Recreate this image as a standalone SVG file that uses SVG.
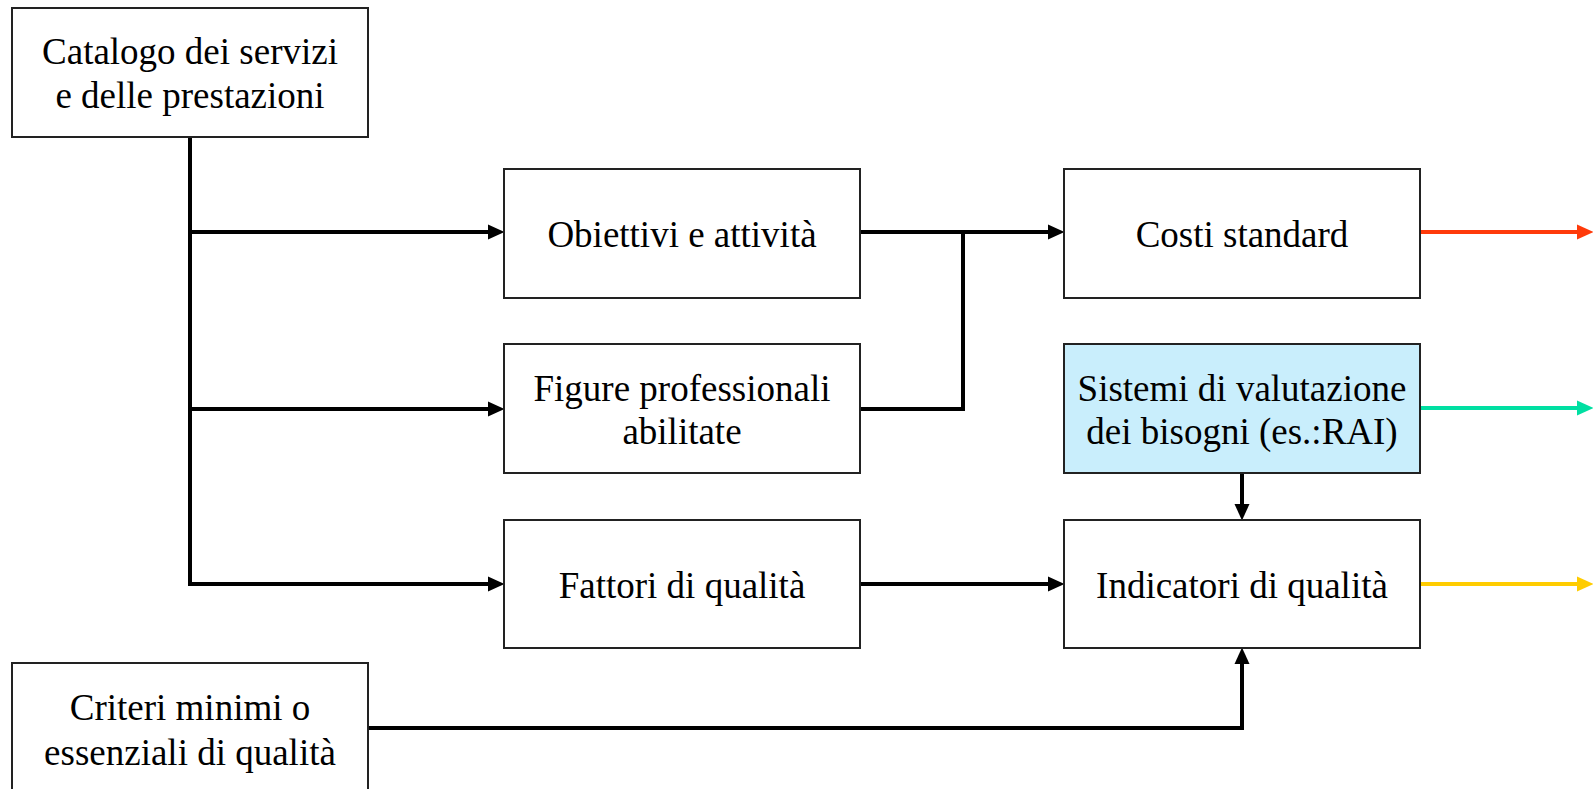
<svg xmlns="http://www.w3.org/2000/svg" width="1593" height="789" viewBox="0 0 1593 789">
<style>
.box{fill:#fff;stroke:#222;stroke-width:2}
.blue{fill:#C9EEFC}
.t{font-family:"Liberation Serif","Times New Roman",serif;font-size:37px;fill:#000;text-anchor:middle}
.c{fill:none;stroke:#000;stroke-width:4}
</style>
<defs>
<marker id="ab" markerUnits="userSpaceOnUse" markerWidth="17" markerHeight="16" viewBox="0 0 17 16" refX="0" refY="8" orient="auto"><path d="M0,0.5 L16.5,8 L0,15.5 z" fill="#000"/></marker>
<marker id="ar" markerUnits="userSpaceOnUse" markerWidth="17" markerHeight="16" viewBox="0 0 17 16" refX="0" refY="8" orient="auto"><path d="M0,0.5 L16.5,8 L0,15.5 z" fill="#FF3A0A"/></marker>
<marker id="ag" markerUnits="userSpaceOnUse" markerWidth="17" markerHeight="16" viewBox="0 0 17 16" refX="0" refY="8" orient="auto"><path d="M0,0.5 L16.5,8 L0,15.5 z" fill="#00DFA2"/></marker>
<marker id="ay" markerUnits="userSpaceOnUse" markerWidth="17" markerHeight="16" viewBox="0 0 17 16" refX="0" refY="8" orient="auto"><path d="M0,0.5 L16.5,8 L0,15.5 z" fill="#FFCC00"/></marker>
</defs>
<g id="connectors">
<path class="c" d="M190,137 V584 H488" marker-end="url(#ab)"/>
<path class="c" d="M190,232 H488" marker-end="url(#ab)"/>
<path class="c" d="M190,409 H488" marker-end="url(#ab)"/>
<path class="c" d="M860,232 H1048" marker-end="url(#ab)"/>
<path class="c" d="M860,409 H963 V232"/>
<path class="c" d="M860,584 H1048" marker-end="url(#ab)"/>
<path class="c" d="M1242,473 V504" marker-end="url(#ab)"/>
<path class="c" d="M368,728 H1242 V664" marker-end="url(#ab)"/>
<path fill="none" stroke="#FF3A0A" stroke-width="4" d="M1420,232 H1577" marker-end="url(#ar)"/>
<path fill="none" stroke="#00DFA2" stroke-width="4" d="M1420,408 H1577" marker-end="url(#ag)"/>
<path fill="none" stroke="#FFCC00" stroke-width="4" d="M1420,584 H1577" marker-end="url(#ay)"/>
</g>
<g id="catalogo"><rect class="box" x="12" y="8" width="356" height="129"/><text class="t" x="190" y="64">Catalogo dei servizi</text><text class="t" x="190" y="108">e delle prestazioni</text></g>
<g id="obiettivi"><rect class="box" x="504" y="169" width="356" height="129"/><text class="t" x="682" y="247">Obiettivi e attività</text></g>
<g id="figure"><rect class="box" x="504" y="344" width="356" height="129"/><text class="t" x="682" y="401">Figure professionali</text><text class="t" x="682" y="444">abilitate</text></g>
<g id="fattori"><rect class="box" x="504" y="520" width="356" height="128"/><text class="t" x="682" y="598">Fattori di qualità</text></g>
<g id="costi"><rect class="box" x="1064" y="169" width="356" height="129"/><text class="t" x="1242" y="247">Costi standard</text></g>
<g id="sistemi"><rect class="box blue" x="1064" y="344" width="356" height="129"/><text class="t" x="1242" y="401">Sistemi di valutazione</text><text class="t" x="1242" y="444">dei bisogni (es.:RAI)</text></g>
<g id="indicatori"><rect class="box" x="1064" y="520" width="356" height="128"/><text class="t" x="1242" y="598">Indicatori di qualità</text></g>
<g id="criteri"><rect class="box" x="12" y="663" width="356" height="140"/><text class="t" x="190" y="720">Criteri minimi o</text><text class="t" x="190" y="765">essenziali di qualità</text></g>
</svg>
